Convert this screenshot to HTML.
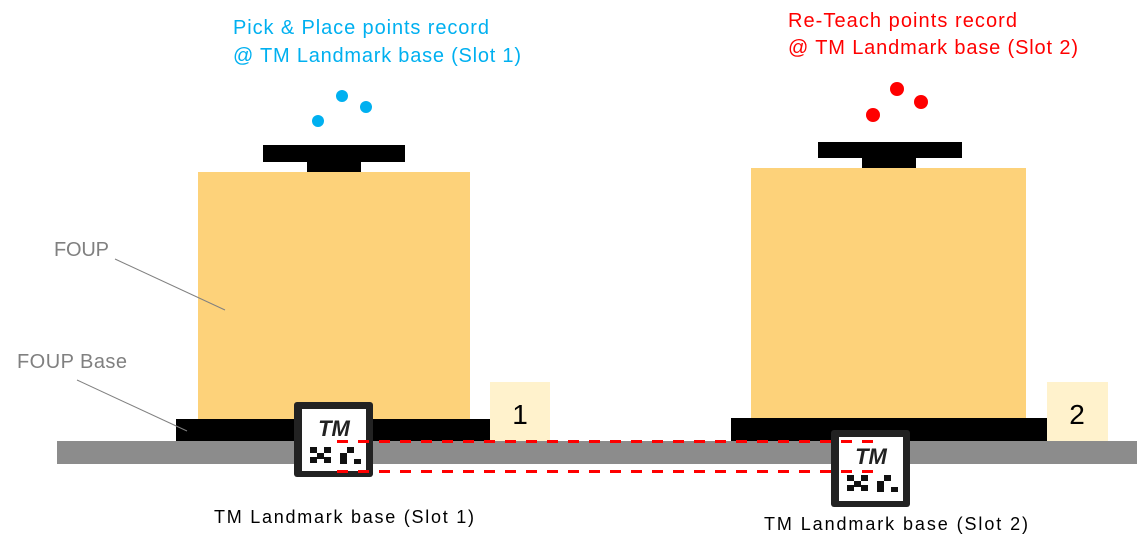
<!DOCTYPE html>
<html><head><meta charset="utf-8"><style>
html,body{margin:0;padding:0;background:#fff;}
svg{display:block;}
text{font-family:"Liberation Sans",sans-serif;}
</style></head><body>
<svg width="1137" height="550" viewBox="0 0 1137 550" xmlns="http://www.w3.org/2000/svg">
<rect x="57" y="441" width="1080" height="23" fill="#8c8c8c"/>
<rect x="198" y="172" width="272" height="247" fill="#fdd27a"/>
<rect x="176" y="419" width="314" height="22" fill="#000"/>
<rect x="263" y="145" width="142" height="17" fill="#000"/>
<rect x="307" y="161" width="54" height="11" fill="#000"/>
<rect x="490" y="382" width="60" height="59" fill="#fff2cc"/>
<text x="520" y="424" font-size="28" text-anchor="middle" fill="#000">1</text>
<rect x="751" y="168" width="275" height="250" fill="#fdd27a"/>
<rect x="731" y="418" width="316" height="23" fill="#000"/>
<rect x="818" y="142" width="144" height="16" fill="#000"/>
<rect x="862" y="157" width="54" height="11" fill="#000"/>
<rect x="1047" y="382" width="61" height="59" fill="#fff2cc"/>
<text x="1077" y="424" font-size="28" text-anchor="middle" fill="#000">2</text>
<g>
<rect x="294" y="402" width="79" height="75" rx="3" fill="#222"/>
<rect x="302" y="409" width="64" height="62" fill="#fff"/>
<text x="334" y="436" font-size="22" font-weight="bold" text-anchor="middle" fill="#222" font-style="italic">TM</text>
<rect x="310" y="447" width="7" height="6" fill="#111"/><rect x="317" y="453" width="7" height="6" fill="#111"/>
<rect x="324" y="447" width="7" height="6" fill="#111"/>
<rect x="310" y="457" width="7" height="6" fill="#111"/><rect x="324" y="457" width="7" height="6" fill="#111"/>
<rect x="340" y="453" width="7" height="6" fill="#111"/><rect x="347" y="447" width="7" height="6" fill="#111"/>
<rect x="340" y="459" width="7" height="5" fill="#111"/><rect x="354" y="459" width="7" height="5" fill="#111"/>
</g>
<g transform="translate(537,28)">
<rect x="294" y="402" width="79" height="77" rx="3" fill="#222"/>
<rect x="302" y="409" width="64" height="64" fill="#fff"/>
<text x="334" y="436" font-size="22" font-weight="bold" text-anchor="middle" fill="#222" font-style="italic">TM</text>
<rect x="310" y="447" width="7" height="6" fill="#111"/><rect x="317" y="453" width="7" height="6" fill="#111"/>
<rect x="324" y="447" width="7" height="6" fill="#111"/>
<rect x="310" y="457" width="7" height="6" fill="#111"/><rect x="324" y="457" width="7" height="6" fill="#111"/>
<rect x="340" y="453" width="7" height="6" fill="#111"/><rect x="347" y="447" width="7" height="6" fill="#111"/>
<rect x="340" y="459" width="7" height="5" fill="#111"/><rect x="354" y="459" width="7" height="5" fill="#111"/>
</g>
<line x1="337" y1="441.5" x2="874" y2="441.5" stroke="#ff0000" stroke-width="3" stroke-dasharray="11,10"/>
<line x1="337" y1="471.5" x2="874" y2="471.5" stroke="#ff0000" stroke-width="3" stroke-dasharray="11,10"/>
<circle cx="318" cy="121" r="6" fill="#00b0f0"/>
<circle cx="342" cy="96" r="6" fill="#00b0f0"/>
<circle cx="366" cy="107" r="6" fill="#00b0f0"/>
<circle cx="873" cy="115" r="7" fill="#ff0000"/>
<circle cx="897" cy="89" r="7" fill="#ff0000"/>
<circle cx="921" cy="102" r="7" fill="#ff0000"/>
<text x="233" y="34" font-size="20" fill="#00b0f0" textLength="256">Pick &amp; Place points record</text>
<text x="233" y="62" font-size="20" fill="#00b0f0" textLength="288">@ TM Landmark base (Slot 1)</text>
<text x="788" y="27" font-size="20" fill="#ff0000" textLength="229">Re-Teach points record</text>
<text x="788" y="54" font-size="20" fill="#ff0000" textLength="290">@ TM Landmark base (Slot 2)</text>
<text x="54" y="256" font-size="20" fill="#808080" textLength="55">FOUP</text>
<line x1="115" y1="259" x2="225" y2="310" stroke="#808080" stroke-width="1"/>
<text x="17" y="368" font-size="20" fill="#808080" textLength="110">FOUP Base</text>
<line x1="77" y1="380" x2="187" y2="431" stroke="#808080" stroke-width="1"/>
<text x="214" y="523" font-size="18" fill="#000" textLength="260">TM Landmark base (Slot 1)</text>
<text x="764" y="530" font-size="18" fill="#000" textLength="264">TM Landmark base (Slot 2)</text>
</svg>
</body></html>
